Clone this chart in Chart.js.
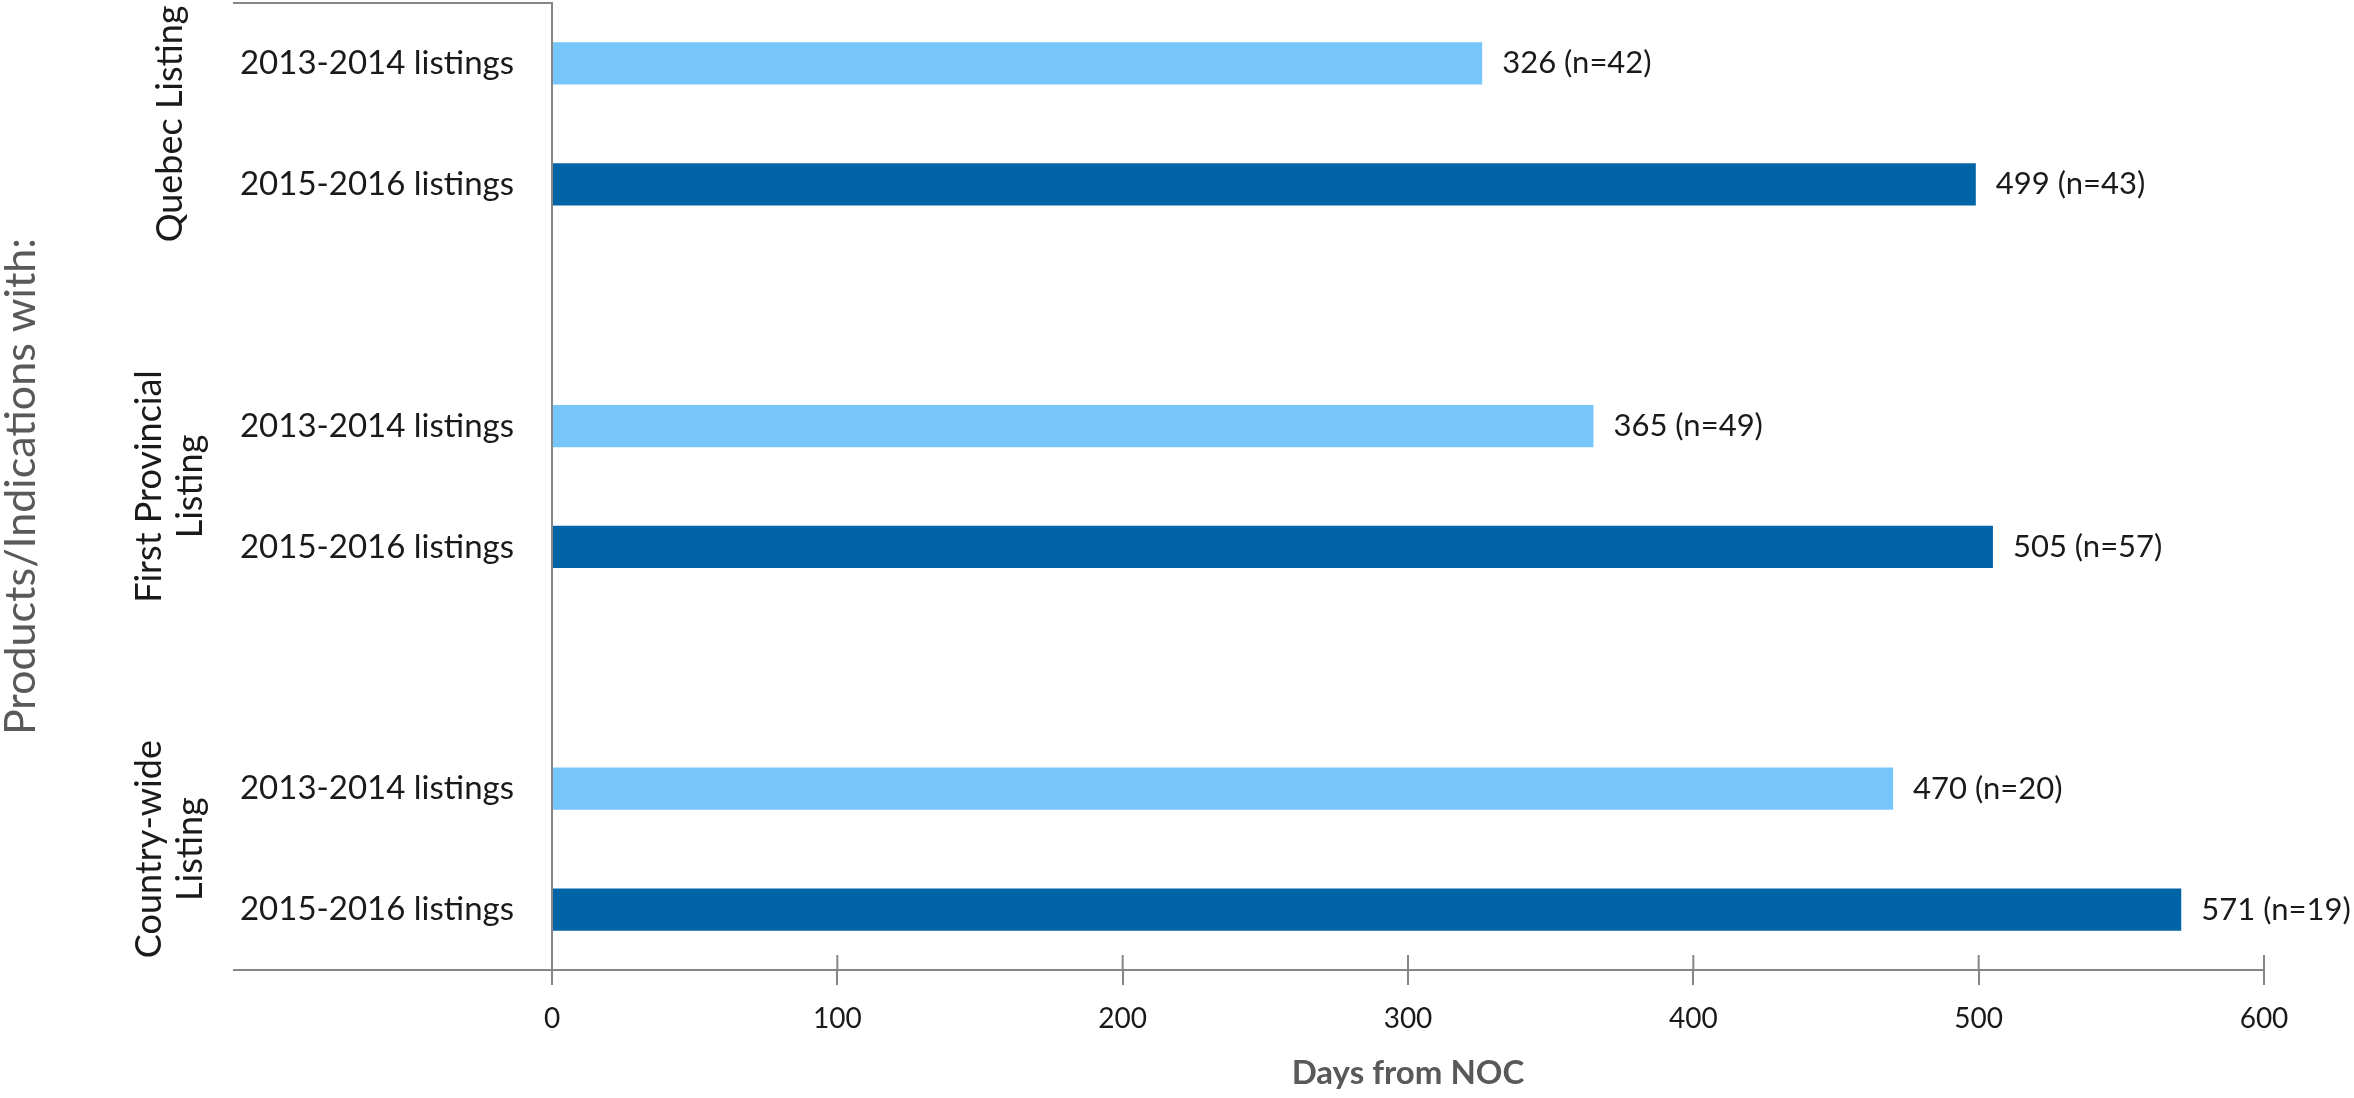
<!DOCTYPE html>
<html>
<head>
<meta charset="utf-8">
<script src="https://cdn.jsdelivr.net/npm/chart.js@4/dist/chart.umd.min.js"></script>
<style>
  html, body { margin: 0; padding: 0; background: #ffffff; }
  #wrap { width: 2354px; height: 1098px; position: relative; }
</style>
</head>
<body>
<div id="wrap"><canvas id="chart"></canvas></div>
<script>
// groups of products, top to bottom
const groupNames = [["Quebec Listing"], ["First Provincial", "Listing"], ["Country-wide", "Listing"]];
const periods = ["2013-2014 listings", "2015-2016 listings"];
// median days from NOC, per group: [2013-2014, 2015-2016]
const daysFromNoc = [[326, 499], [365, 505], [470, 571]];
const sampleSizes = [[42, 43], [49, 57], [20, 19]];
const xTicks = [0, 100, 200, 300, 400, 500, 600];

const periodColors = ["#76C6FC", "#0064A6"];
const axisGray = "#868686";
const textColor = "#1a1a1a";
const fontFamily = "Lato, 'Open Sans', sans-serif";

// one category per bar, with an empty slot between groups
const labels = [];
const values = [];
const nValues = [];
const colors = [];
const groupIndex = [];
groupNames.forEach((g, gi) => {
  periods.forEach((p, pi) => {
    labels.push(p);
    values.push(daysFromNoc[gi][pi]);
    nValues.push(sampleSizes[gi][pi]);
    colors.push(periodColors[pi]);
    groupIndex.push(gi);
  });
  if (gi < groupNames.length - 1) {
    labels.push("");
    values.push(null);
    nValues.push(null);
    colors.push("rgba(0,0,0,0)");
    groupIndex.push(-1);
  }
});

const AXIS_LEFT_EXTENT = 233;

const framePlugin = {
  id: "frame",
  afterDraw(chart) {
    const { ctx, chartArea } = chart;
    const xScale = chart.scales.x;
    ctx.save();
    ctx.strokeStyle = axisGray;
    ctx.lineWidth = 2;
    // multi-level category separators
    ctx.beginPath();
    ctx.moveTo(AXIS_LEFT_EXTENT, chartArea.top);
    ctx.lineTo(chartArea.left, chartArea.top);
    ctx.moveTo(AXIS_LEFT_EXTENT, chartArea.bottom);
    ctx.lineTo(chartArea.left, chartArea.bottom);
    // upper half of the crossing tick marks
    xTicks.forEach((v) => {
      if (v === 0) return;
      const px = xScale.getPixelForValue(v);
      ctx.moveTo(px, chartArea.bottom - 15);
      ctx.lineTo(px, chartArea.bottom);
    });
    ctx.stroke();

    // group labels, rotated
    const yScale = chart.scales.y;
    ctx.fillStyle = textColor;
    ctx.font = "36px " + fontFamily;
    ctx.textAlign = "center";
    ctx.textBaseline = "middle";
    groupNames.forEach((lines, gi) => {
      const idx = groupIndex.map((g, i) => (g === gi ? i : -1)).filter((i) => i >= 0);
      const yc = (yScale.getPixelForValue(idx[0]) + yScale.getPixelForValue(idx[idx.length - 1])) / 2;
      const lineH = 41;
      ctx.save();
      ctx.translate(170, yc);
      ctx.rotate(-Math.PI / 2);
      lines.forEach((line, li) => {
        ctx.fillText(line, 0, (li - (lines.length - 1) / 2) * lineH);
      });
      ctx.restore();
    });
    ctx.restore();
  },
  afterDatasetsDraw(chart) {
    const { ctx } = chart;
    const meta = chart.getDatasetMeta(0);
    ctx.save();
    ctx.fillStyle = textColor;
    ctx.font = "31px " + fontFamily;
    ctx.textAlign = "left";
    ctx.textBaseline = "middle";
    meta.data.forEach((bar, i) => {
      if (values[i] == null) return;
      ctx.fillText(values[i] + " (n=" + nValues[i] + ")", bar.x + 20, bar.y);
    });
    ctx.restore();
  },
};

new Chart(document.getElementById("chart"), {
  type: "bar",
  data: {
    labels: labels,
    datasets: [{
      data: values,
      backgroundColor: colors,
      borderWidth: 0,
      barPercentage: 1,
      categoryPercentage: 0.35,
    }],
  },
  options: {
    indexAxis: "y",
    responsive: true,
    maintainAspectRatio: false,
    animation: false,
    devicePixelRatio: 1,
    layout: { padding: { top: 3, right: 90, bottom: 0, left: 0 } },
    plugins: {
      legend: { display: false },
      tooltip: { enabled: false },
    },
    scales: {
      y: {
        type: "category",
        afterFit(scale) {
          scale.width = 552;
          scale.paddingTop = 0;
          scale.paddingBottom = 0;
        },
        grid: { display: false, drawTicks: false },
        border: { display: true, color: axisGray, width: 2 },
        ticks: {
          autoSkip: false,
          padding: 38,
          color: textColor,
          font: { family: fontFamily, size: 33 },
        },
        title: {
          display: true,
          text: "Products/Indications with:",
          color: "#595959",
          padding: 0,
          font: { family: fontFamily, size: 43, lineHeight: 1.0 },
        },
      },
      x: {
        type: "linear",
        min: 0,
        max: 600,
        afterFit(scale) { scale.height = 128; },
        afterBuildTicks(scale) { scale.ticks = xTicks.map((v) => ({ value: v })); },
        grid: {
          drawOnChartArea: false,
          drawTicks: true,
          tickLength: 15,
          color: axisGray,
          lineWidth: 2,
        },
        border: { display: true, color: axisGray, width: 2 },
        ticks: {
          padding: 17,
          color: textColor,
          font: { family: fontFamily, size: 28 },
        },
        title: {
          display: true,
          text: "Days from NOC",
          color: "#595959",
          padding: { top: 0, bottom: 5 },
          font: { family: fontFamily, size: 33, weight: "bold" },
        },
      },
    },
  },
  plugins: [framePlugin],
});
</script>
</body>
</html>
